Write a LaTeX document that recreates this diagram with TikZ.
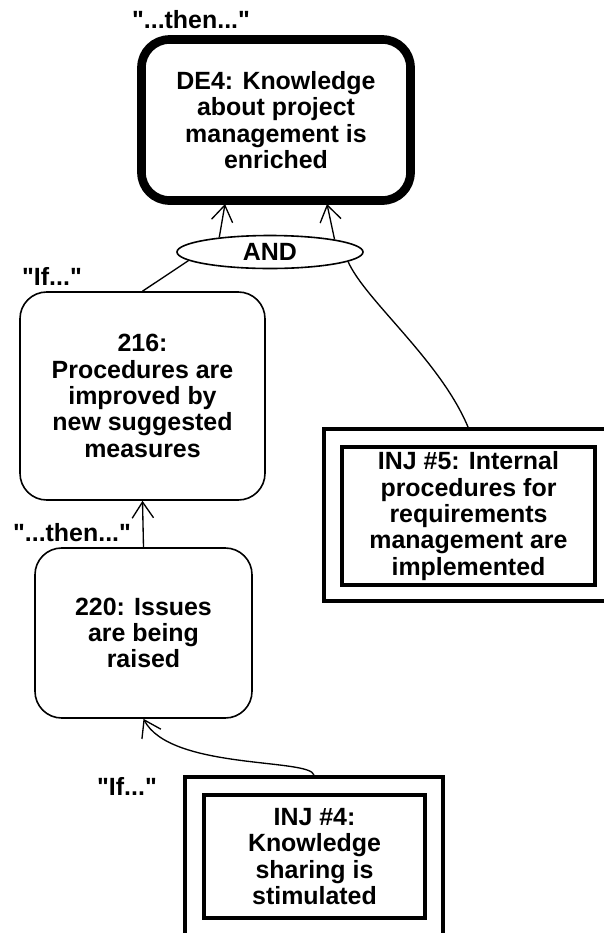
\documentclass[tikz,border=0pt]{standalone}
\usepackage{fontspec}
\setmainfont{Liberation Sans}[Ligatures=TeXOff]
\usetikzlibrary{arrows.meta,shapes.geometric}
\begin{document}
\begin{tikzpicture}[x=0.75pt,y=-0.75pt,
  every node/.style={font=\bfseries\fontsize{18.7}{19.8}\selectfont, align=center, inner sep=0pt},
  debox/.style={draw, rounded corners=21pt, line width=6.5pt, minimum width=201.75pt, minimum height=120.75pt},
  rbox/.style={draw, rounded corners=20pt, line width=1.2pt},
  injout/.style={draw, line width=3pt},
  injin/.style={draw, line width=3pt},
  andnode/.style={draw, ellipse, line width=1.2pt, minimum width=139.5pt, minimum height=24.75pt},
  conn/.style={line width=1pt},
  arr/.style={line width=1pt, -{Straight Barb[length=12pt,width=16pt]}}
]
\useasboundingbox (0,0) rectangle (604,933);

% labels
\node (lthen1) at (191,20) {"...then..."};
\node (lif1) at (52,276) {"If..."};
\node (lthen2) at (72,533) {"...then..."};
\node (lif2) at (127,786) {"If..."};

% DE4
\node[debox] (de4) at (276,120) {DE4: Knowledge\\about project\\management is\\enriched};

% AND
\node[andnode] (and) at (270,252) {AND};

% 216
\node[rbox, minimum width=183.75pt, minimum height=156pt] (r216) at (142.5,396)
  {216:\\Procedures are\\improved by\\new suggested\\measures};

% 220
\node[rbox, minimum width=162.75pt, minimum height=127.5pt] (r220) at (143.5,633)
  {220: Issues\\are being\\raised};

% INJ 5
\node[injout, minimum width=216pt, minimum height=129pt] (inj5o) at (468,515) {};
\node[injin, minimum width=189.75pt, minimum height=103.5pt] (inj5) at (468.5,516)
  {INJ \#5: Internal\\procedures for\\requirements\\management are\\implemented};

% INJ 4
\node[injout, minimum width=193.5pt, minimum height=126pt] (inj4o) at (314,861) {};
\node[injin, minimum width=165.75pt, minimum height=92.25pt] (inj4) at (314.5,856.5)
  {INJ \#4:\\Knowledge\\sharing is\\stimulated};

% end points on DE4 bottom
\coordinate (de4L) at (225,204);
\coordinate (de4R) at (327,204);

% connectors
\draw[arr] (and.164) -- (de4L);
\draw[arr] (and.11) -- (de4R);
\draw[conn] (and.186) -- (r216.north);
\draw[conn] (and.-7) .. controls (365,300) and (440,360) .. (inj5o.north);
\draw[arr] (r220.north) -- (r216.south);
\draw[arr] (inj4o.north) .. controls (310,758) and (170,770) .. (r220.south);
\end{tikzpicture}
\end{document}
